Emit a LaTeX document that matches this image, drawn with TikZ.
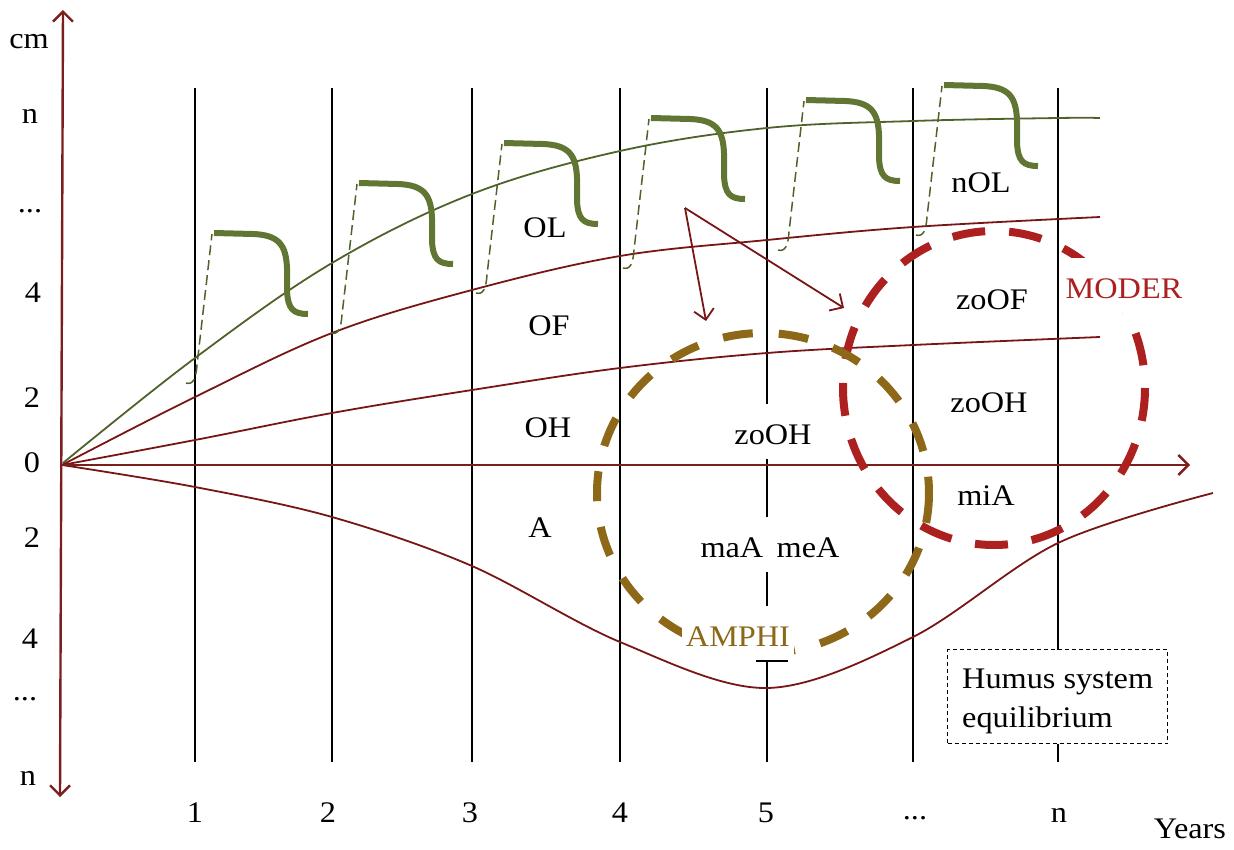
\documentclass[tikz,border=0pt]{standalone}
\usepackage{fontspec}
\setmainfont{Liberation Serif}[FakeStretch=1.08]
\usetikzlibrary{arrows.meta}
\definecolor{axred}{RGB}{125,30,30}
\definecolor{crvred}{RGB}{120,22,22}
\definecolor{grthin}{RGB}{78,98,42}
\definecolor{grthick}{RGB}{98,118,52}
\definecolor{amphicol}{RGB}{140,104,24}
\definecolor{modercol}{RGB}{172,32,32}
\begin{document}
\begin{tikzpicture}[x=1bp,y=-1bp,
  font=\fontsize{30}{36}\selectfont,
  vline/.style={black, line width=2.2bp},
  axisline/.style={axred, line width=2.4bp},
  crv/.style={crvred, line width=1.8bp},
  grcrv/.style={grthin, line width=1.8bp},
  pulsedash/.style={grthin, line width=1.5bp, dash pattern=on 10bp off 5bp},
  pulsethick/.style={grthick, line width=6bp},
  barb/.style={-{Straight Barb[length=10bp,width=20bp]}},
  amphic/.style={amphicol, line width=8bp, dash pattern=on 30bp off 26bp},
  moderc/.style={modercol, line width=8bp, dash pattern=on 33bp off 24bp},
  lbl/.style={anchor=base, inner sep=0pt},
  wlbl/.style={anchor=base, fill=white, inner xsep=4bp, inner ysep=0pt, text height=40bp, text depth=15bp},
  pics/pulse/.style={code={
    \draw[pulsedash] (-27,150) .. controls (-20,152) and (-17,146) .. (-16,132) -- (-1,1);
    \draw[pulsethick] (1,0) -- (40,1) .. controls (66,2) and (73,12) .. (74,35) -- (74,58) .. controls (75,76) and (80,81) .. (95,81);
  }}
]
\useasboundingbox (0,0) rectangle (1234,850);

% vertical year lines
\foreach \xx/\nm in {195/v1,332/v2,472/v3,620/v4,767/v5,913/v6,1058/v7}{
  \coordinate (\nm t) at (\xx,88);
  \coordinate (\nm b) at (\xx,762);
  \draw[vline] (\nm t) -- (\nm b);
}

% curves
\coordinate (O) at (62,465);
\draw[grcrv] plot[smooth, tension=0.6] coordinates {(63,463) (195,358) (332,263) (472,194) (620,151) (767,128) (913,121) (1058,118) (1100,118)};
\draw[crv] plot[smooth, tension=0.6] coordinates {(62,465) (195,397) (332,333) (472,290) (620,256) (767,240) (913,227) (1100,217)};
\draw[crv] plot[smooth, tension=0.6] coordinates {(62,465) (195,440) (332,413) (472,390) (620,368) (767,353) (913,345) (1100,337)};
\draw[crv] plot[smooth, tension=0.55] coordinates {(62,465) (195,487) (332,517) (472,566) (620,642) (767,688) (913,637) (1058,543) (1213,493)};

% green pulses
\pic at (213,233) {pulse};
\pic at (358,183) {pulse};
\pic at (503,143) {pulse};
\pic at (650,118) {pulse};
\pic at (805,100) {pulse};
\pic at (943,85) {pulse};

% axes
\coordinate (ytop) at (63,10);
\coordinate (ybot) at (60,797);
\coordinate (xend) at (1190,465);
\draw[axisline, {Straight Barb[length=10bp,width=20bp]}-{Straight Barb[length=10bp,width=20bp]}] (ytop) -- (ybot);
\draw[axisline, barb] (O) -- (xend);

% arrows
\coordinate (fork) at (685,208);
\coordinate (arrA) at (706,321);
\coordinate (arrB) at (844,308);
\draw[crvred, line width=1.8bp, barb] (fork) -- (arrA);
\draw[crvred, line width=1.8bp, barb] (fork) -- (arrB);

% circles
\draw[moderc] (994,388) ellipse [x radius=151, y radius=157];
\draw[amphic] (763,493) ellipse [x radius=166, y radius=160];

% white labels
\node[wlbl] (zoOHa) at (773,444) {zoOH};
\node[wlbl] (maA) at (770,557) {maA\hspace{0.45em}meA};
\node[wlbl, text=amphicol] (amphi) at (738,646) {AMPHI};
\draw[black, line width=2bp] (756,661) -- (788,661);
\node[wlbl, text=modercol] (moder) at (1124,298) {MODER};

% humus box
\node[draw, dashed, dash pattern=on 4bp off 3bp, line width=1.2bp, fill=white, anchor=north west, minimum width=220bp, minimum height=94bp, inner sep=0pt] (box) at (947,649) {};
\node[anchor=base west, inner sep=0pt] (hum1) at (962,688) {Humus system};
\node[anchor=base west, inner sep=0pt] (hum2) at (962,727) {equilibrium};

% horizon labels
\node[lbl] (OL) at (545,237) {OL};
\node[lbl] (OF) at (549,335) {OF};
\node[lbl] (OH) at (548,437) {OH};
\node[lbl] (A) at (540,537) {A};
\node[lbl] (nOL) at (981,192) {nOL};
\node[lbl] (zoOF) at (992,309) {zoOF};
\node[lbl] (zoOHb) at (989,412) {zoOH};
\node[lbl] (miA) at (986,505) {miA};

% y axis labels
\node[lbl] (ycm) at (29,48) {cm};
\node[lbl] (yn1) at (30,123) {n};
\node[lbl] (yd1) at (30,212) {...};
\node[lbl] (y41) at (33,302) {4};
\node[lbl] (y21) at (32,407) {2};
\node[lbl] (y0) at (32,472) {0};
\node[lbl] (y22) at (32,547) {2};
\node[lbl] (y42) at (30,648) {4};
\node[lbl] (yd2) at (25,700) {...};
\node[lbl] (yn2) at (28,785) {n};

% x axis labels
\node[lbl] (x1) at (195,822) {1};
\node[lbl] (x2) at (328,822) {2};
\node[lbl] (x3) at (470,822) {3};
\node[lbl] (x4) at (620,822) {4};
\node[lbl] (x5) at (766,822) {5};
\node[lbl] (x6) at (915,819) {...};
\node[lbl] (xn) at (1059,822) {n};
\node[lbl] (years) at (1190,838) {Years};
\end{tikzpicture}
\end{document}
